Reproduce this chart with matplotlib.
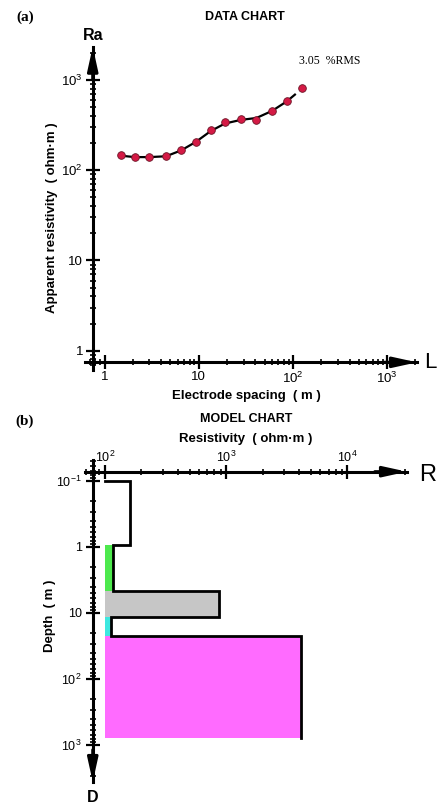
import numpy as np
import matplotlib
matplotlib.use('Agg')
import matplotlib.pyplot as plt
from matplotlib.ticker import LogLocator, FuncFormatter, NullFormatter

plt.rcParams['font.family'] = ['Liberation Sans', 'DejaVu Sans']
plt.rcParams['mathtext.fontset'] = 'custom'
plt.rcParams['mathtext.rm'] = 'Liberation Sans'
plt.rcParams['mathtext.it'] = 'Liberation Sans'
plt.rcParams['mathtext.bf'] = 'Liberation Sans:bold'

# (a) sounding data: electrode spacing (m) vs apparent resistivity (ohm-m)
spacing = [1.5, 2.1, 3.0, 4.5, 6.5, 9.3, 13.4, 19, 28, 41, 60, 86, 124]
ra_obs = [148, 140, 140, 145, 168, 204, 277, 343, 367, 358, 458, 586, 811]
# fitted (calculated) curve
spacing_fit = [1.5, 2.1, 3.0, 4.5, 6.5, 9.3, 13.4, 19, 28, 41, 60, 86, 105]
ra_fit = [145, 140, 140, 143, 166, 206, 272, 330, 362, 380, 455, 580, 690]
rms_text = '3.05  %RMS'

# (b) layered model
layer_top = [0.1, 0.93, 4.6, 11.4, 22.3]
layer_bottom = [0.93, 4.6, 11.4, 22.3, 780]
layer_rho = [161, 116, 872, 112, 4120]
layer_color = ['white', '#4de94d', '#c6c6c6', '#3de8e0', '#ff6bff']
rho_base = 100

W, H = 443, 807
fig = plt.figure(figsize=(W / 100, H / 100), dpi=100)


def px(x, y):
    return x / W, 1 - y / H


def fmt_pow(v, pos):
    e = int(round(np.log10(v)))
    if e == 0:
        return '1'
    if e == 1:
        return '10'
    return r'$\mathrm{10^{%d}}$' % e


def style_axis(ax):
    ax.xaxis.set_major_locator(LogLocator(base=10, numticks=10))
    ax.yaxis.set_major_locator(LogLocator(base=10, numticks=10))
    ax.xaxis.set_minor_locator(LogLocator(base=10, subs=np.arange(2, 10), numticks=10))
    ax.yaxis.set_minor_locator(LogLocator(base=10, subs=np.arange(2, 10), numticks=10))
    ax.xaxis.set_major_formatter(FuncFormatter(fmt_pow))
    ax.yaxis.set_major_formatter(FuncFormatter(fmt_pow))
    ax.xaxis.set_minor_formatter(NullFormatter())
    ax.yaxis.set_minor_formatter(NullFormatter())
    ax.tick_params(which='major', direction='inout', length=10, width=1.6, labelsize=9.5)
    ax.tick_params(which='minor', direction='inout', length=5, width=1.2)
    ax.patch.set_alpha(0)


arrow = dict(arrowstyle='-|>,head_length=1.0,head_width=0.22', color='k', lw=2.2,
             mutation_scale=14, shrinkA=0, shrinkB=0)

# ---------------- (a) DATA CHART ----------------
l, b = px(85, 370)
r, t = px(417, 46.7)
ax1 = fig.add_axes([l, b, r - l, t - b])
ax1.set_xscale('log')
ax1.set_yscale('log')
ax1.set_xlim(10 ** -0.207, 10 ** 3.317)
ax1.set_ylim(10 ** -0.214, 10 ** 3.37)
style_axis(ax1)
ax1.spines['top'].set_visible(False)
ax1.spines['right'].set_visible(False)
ax1.spines['left'].set_position(('data', 10 ** -0.125))
ax1.spines['bottom'].set_position(('data', 10 ** -0.129))
for s in ('left', 'bottom'):
    ax1.spines[s].set_linewidth(2.2)
ax1.tick_params(axis='x', pad=1)
ax1.tick_params(axis='y', pad=2)

ax1.plot(spacing_fit, ra_fit, color='k', lw=1.6, zorder=3)
ax1.plot(spacing, ra_obs, 'o', ms=5.5, color='#d41a45', mec='#6a1526', mew=0.6, zorder=4)

ax1.annotate('', xy=(1, 10 ** -0.129), xytext=(0.9, 10 ** -0.129),
             xycoords=('axes fraction', 'data'), textcoords=('axes fraction', 'data'),
             arrowprops=arrow, annotation_clip=False)
ax1.annotate('', xy=(10 ** -0.125, 1), xytext=(10 ** -0.125, 0.9),
             xycoords=('data', 'axes fraction'), textcoords=('data', 'axes fraction'),
             arrowprops=arrow, annotation_clip=False)

# ---------------- (b) MODEL CHART ----------------
l, b = px(85, 782)
r, t = px(407, 460)
ax2 = fig.add_axes([l, b, r - l, t - b])
ax2.set_xscale('log')
ax2.set_yscale('log')
ax2.set_xlim(10 ** 1.835, 10 ** 4.492)
ax2.set_ylim(10 ** 3.561, 10 ** -1.318)
style_axis(ax2)
ax2.xaxis.set_ticks_position('top')
ax2.spines['bottom'].set_visible(False)
ax2.spines['right'].set_visible(False)
ax2.spines['left'].set_position(('data', 10 ** 1.899))
ax2.spines['top'].set_position(('data', 10 ** -1.141))
for s in ('left', 'top'):
    ax2.spines[s].set_linewidth(2.2)
ax2.tick_params(axis='x', labelsize=9, pad=0)
ax2.tick_params(axis='y', labelsize=9, pad=3)

for top, bot, rho, c in zip(layer_top, layer_bottom, layer_rho, layer_color):
    ax2.fill_betweenx([top, bot], rho_base, rho, color=c, lw=0, zorder=1)

# model curve as a staircase
step_x, step_y = [rho_base], [layer_top[0]]
for top, bot, rho in zip(layer_top, layer_bottom, layer_rho):
    step_x += [rho, rho]
    step_y += [top, bot]
ax2.plot(step_x, step_y, color='k', lw=2, zorder=3, solid_joinstyle='miter')

ax2.annotate('', xy=(1, 10 ** -1.141), xytext=(0.9, 10 ** -1.141),
             xycoords=('axes fraction', 'data'), textcoords=('axes fraction', 'data'),
             arrowprops=arrow, annotation_clip=False)
ax2.annotate('', xy=(10 ** 1.899, 0), xytext=(10 ** 1.899, 0.1),
             xycoords=('data', 'axes fraction'), textcoords=('data', 'axes fraction'),
             arrowprops=arrow, annotation_clip=False)

# ---------------- texts ----------------
serif = ['Liberation Serif', 'DejaVu Serif']
fig.text(*px(25, 17), '(a)', family=serif, weight='bold', fontsize=11, ha='center', va='center')
fig.text(*px(245, 17), 'DATA CHART', weight='bold', fontsize=9, ha='center', va='center')
fig.text(*px(93, 36), 'Ra', weight='bold', fontsize=11.5, ha='center', va='center')
fig.text(*px(330, 61), rms_text, family=serif, fontsize=8.5, ha='center', va='center')
fig.text(*px(52, 218), 'Apparent resistivity  ( ohm\u00b7m )', weight='bold', fontsize=9.5,
         rotation=90, ha='center', va='center')
fig.text(*px(246, 396), 'Electrode spacing  ( m )', weight='bold', fontsize=9.5,
         ha='center', va='center')
fig.text(*px(430, 363), 'L', fontsize=16, ha='center', va='center')

fig.text(*px(25, 421), '(b)', family=serif, weight='bold', fontsize=11, ha='center', va='center')
fig.text(*px(246, 419), 'MODEL CHART', weight='bold', fontsize=9, ha='center', va='center')
fig.text(*px(246, 439), 'Resistivity  ( ohm\u00b7m )', weight='bold', fontsize=9.5,
         ha='center', va='center')
fig.text(*px(428, 475), 'R', fontsize=17, ha='center', va='center')
fig.text(*px(50, 616), 'Depth  ( m )', weight='bold', fontsize=9.5, rotation=90,
         ha='center', va='center')
fig.text(*px(93, 797), 'D', weight='bold', fontsize=11.5, ha='center', va='center')

fig.savefig('out.png', dpi=100, facecolor='white')
